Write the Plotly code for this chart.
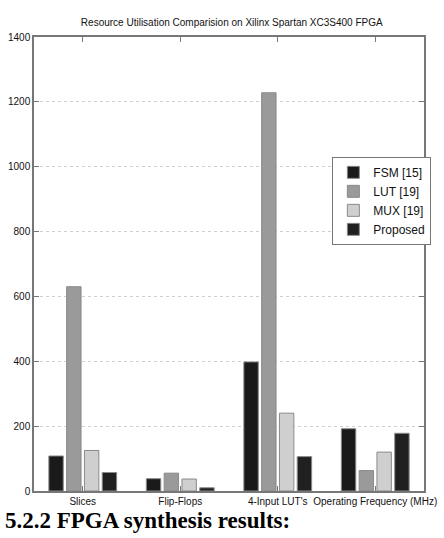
import plotly.graph_objects as go

categories = ["Slices", "Flip-Flops", "4-Input LUT's", "Operating Frequency (MHz)"]
series_names = ["FSM [15]", "LUT [19]", "MUX [19]", "Proposed"]
fsm = [108, 38, 398, 192]
lut = [630, 55, 1228, 63]
mux = [125, 37, 240, 120]
proposed = [57, 10, 106, 178]
colors = ["#1a1a1a", "#9a9a9a", "#cfcfcf", "#202020"]
yticks = [0, 200, 400, 600, 800, 1000, 1200, 1400]

FONT = "Liberation Sans Narrow, Liberation Sans, Arial"

fig = go.Figure()
for name, vals, c in zip(series_names, [fsm, lut, mux, proposed], colors):
    fig.add_trace(go.Bar(
        x=categories, y=vals, name=name,
        marker=dict(color=c, line=dict(color="#8a8a8a", width=1)),
    ))

fig.update_layout(
    width=444, height=538,
    margin=dict(l=29, r=8, t=37, b=47),
    paper_bgcolor="white", plot_bgcolor="white",
    barmode="group", bargap=0.27, bargroupgap=0.19,
    font=dict(family=FONT, size=10, color="#111"),
    title=dict(text="Resource Utilisation Comparision on Xilinx Spartan XC3S400 FPGA",
               x=0.522, xanchor="center", y=0.958, yanchor="middle",
               font=dict(family=FONT, size=10, color="#111")),
    showlegend=True,
    legend=dict(x=0.765, xanchor="left", y=0.736, yanchor="top",
                bordercolor="#777", borderwidth=1, bgcolor="white",
                font=dict(family=FONT, size=12), tracegroupgap=2,
                itemwidth=30),
    xaxis=dict(showline=True, linecolor="#777", linewidth=1.5, mirror="ticks",
               ticks="inside", ticklen=5, tickcolor="#777",
               tickfont=dict(family=FONT, size=10), range=[-0.5, 3.5]),
    yaxis=dict(range=[0, 1400], tickvals=yticks, showline=True, linecolor="#777",
               linewidth=1.5, mirror="ticks", ticks="inside", ticklen=5, tickcolor="#777",
               showgrid=True, gridcolor="#d0d0d0", griddash="dot", gridwidth=1,
               zeroline=False, tickfont=dict(family=FONT, size=10)),
)

fig.add_annotation(text="<b>5.2.2 FPGA synthesis results:</b>", xref="paper", yref="paper",
                   x=0, y=0, xshift=-31, yshift=-15, xanchor="left", yanchor="top",
                   showarrow=False,
                   font=dict(family="Liberation Serif, Times New Roman, serif", size=23, color="#000"))

fig.write_html("out.html")
